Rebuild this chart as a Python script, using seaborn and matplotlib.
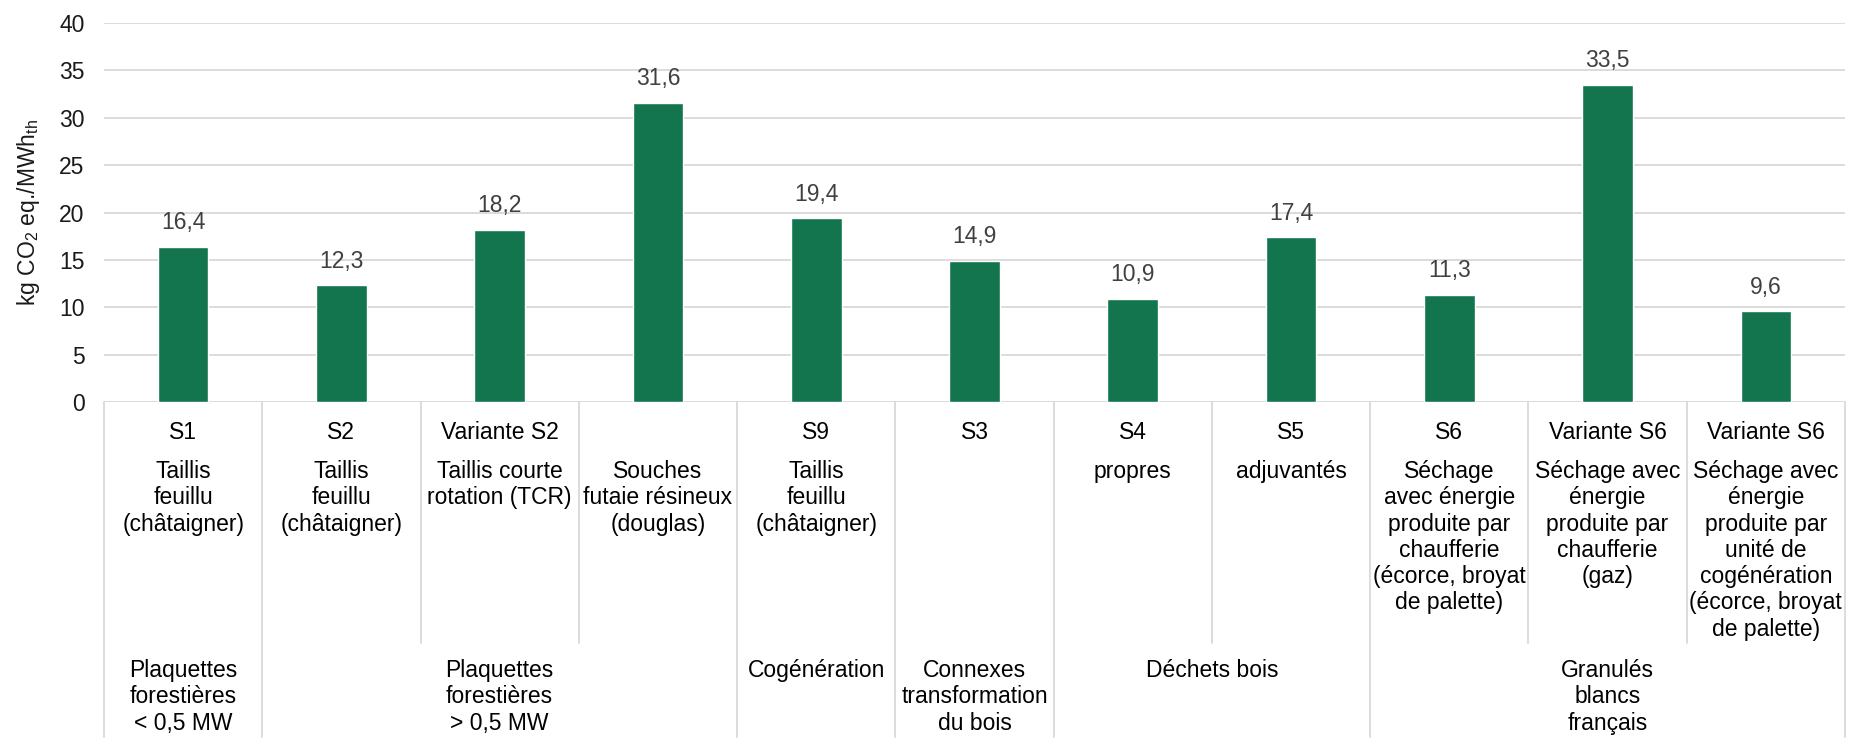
import matplotlib
matplotlib.use("Agg")
import matplotlib.pyplot as plt
import matplotlib.transforms as mtransforms
import pandas as pd
import seaborn as sns

# chart data
codes = ["S1", "S2", "Variante S2", "", "S9", "S3", "S4", "S5", "S6", "Variante S6", "Variante S6"]
descriptions = [
    "Taillis\nfeuillu\n(châtaigner)",
    "Taillis\nfeuillu\n(châtaigner)",
    "Taillis courte\nrotation (TCR)",
    "Souches\nfutaie résineux\n(douglas)",
    "Taillis\nfeuillu\n(châtaigner)",
    "",
    "propres",
    "adjuvantés",
    "Séchage\navec énergie\nproduite par\nchaufferie\n(écorce, broyat\nde palette)",
    "Séchage avec\nénergie\nproduite par\nchaufferie\n(gaz)",
    "Séchage avec\nénergie\nproduite par\nunité de\ncogénération\n(écorce, broyat\nde palette)",
]
values = [16.4, 12.3, 18.2, 31.6, 19.4, 14.9, 10.9, 17.4, 11.3, 33.5, 9.6]
groups = [
    "Plaquettes\nforestières\n< 0,5 MW",
    "Plaquettes\nforestières\n> 0,5 MW",
    "Cogénération",
    "Connexes\ntransformation\ndu bois",
    "Déchets bois",
    "Granulés\nblancs\nfrançais",
]
group_sizes = [1, 3, 1, 1, 2, 3]

GREEN = "#12754D"
GRID = "#D9D9D9"
FS = 16.5
PITCH = 26.3  # px between baselines

W, H = 1868, 747
sns.set_theme(style="white")
plt.rcParams["font.family"] = ["Liberation Sans", "DejaVu Sans"]
plt.rcParams["mathtext.fontset"] = "custom"
plt.rcParams["mathtext.rm"] = "Liberation Sans"

fig = plt.figure(figsize=(W / 100, H / 100), dpi=100)
ax = fig.add_axes([104 / W, 1 - 402 / H, (1845 - 104) / W, (402 - 23) / H])

df = pd.DataFrame({"pos": range(len(values)), "val": values})
sns.barplot(data=df, x="pos", y="val", color=GREEN, saturation=1, width=0.32, ax=ax)

ax.set_xlim(-0.5, len(values) - 0.5)
ax.set_ylim(0, 40)
ax.set_yticks(range(0, 41, 5))
ax.set_xticks([])
ax.set_xlabel("")
ax.yaxis.grid(True, color=GRID, lw=1.3)
ax.set_axisbelow(True)
for s in ax.spines.values():
    s.set_visible(False)
ax.tick_params(axis="y", length=0, pad=14, labelsize=FS, labelcolor="#1a1a1a")

ax.set_ylabel(r"kg CO$_\mathregular{2}$ eq./MWh$_\mathregular{th}$", fontsize=FS, color="#1a1a1a")
ax.yaxis.set_label_coords(-0.0356, 0.5)

ax.bar_label(ax.containers[0], labels=[f"{v:.1f}".replace(".", ",") for v in values],
             padding=9, fontsize=FS, color="#404040")

# two level category axis drawn below the plot
trans = mtransforms.blended_transform_factory(ax.transData, fig.transFigure)


def fy(py):
    return 1 - py / H


def block(x, first_baseline, txt):
    # one text per line so the line pitch matches Excel's
    for j, line in enumerate(txt.split("\n")):
        ax.text(x, fy(first_baseline + j * PITCH), line, ha="center", va="baseline",
                fontsize=FS, color="black", transform=trans)


for i in range(len(values)):
    block(i, 439, codes[i])
    block(i, 478, descriptions[i])

edges = [0]
for n in group_sizes:
    edges.append(edges[-1] + n)

for b in range(len(values) + 1):
    bottom = 737 if b in edges else 643
    ax.plot([b - 0.5, b - 0.5], [fy(402), fy(bottom)], color=GRID, lw=1.3,
            transform=trans, clip_on=False)

for k, name in enumerate(groups):
    cx = edges[k] + group_sizes[k] / 2 - 0.5
    block(cx, 677, name)

fig.savefig("out.png", dpi=100)
